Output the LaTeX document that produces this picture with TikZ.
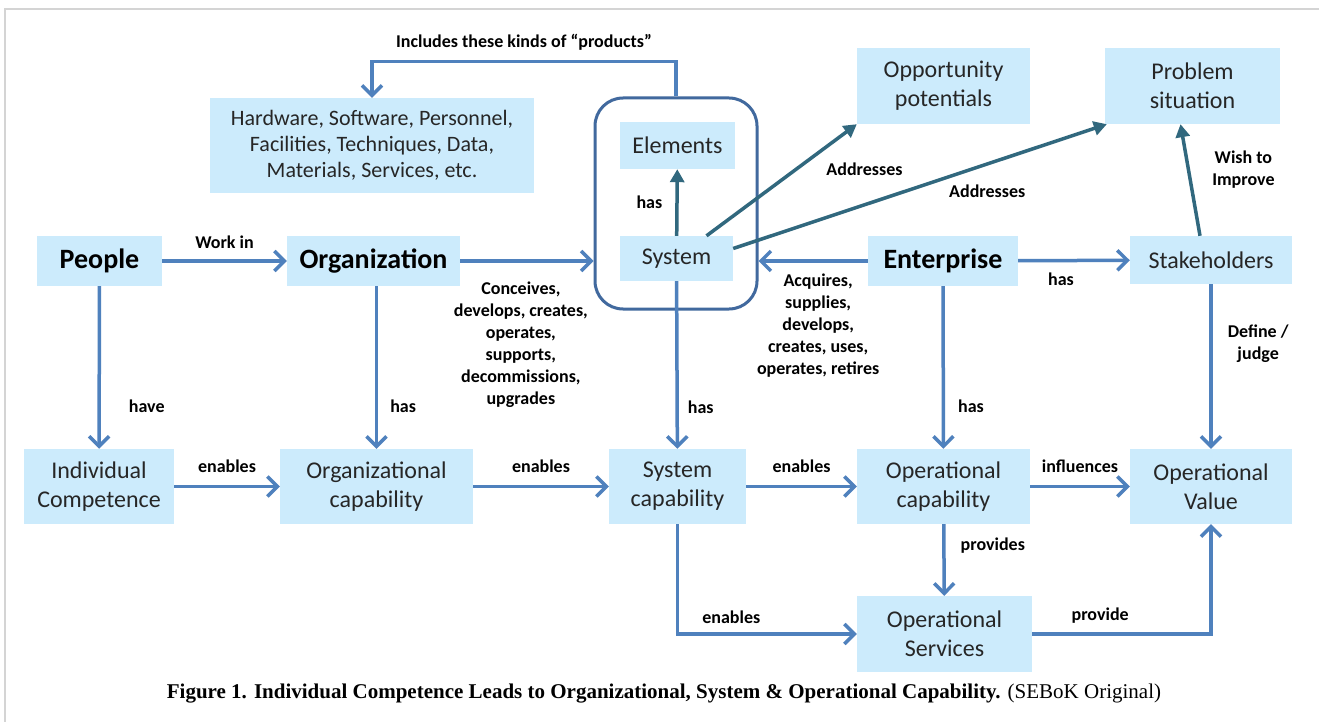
\documentclass[tikz,border=0pt]{standalone}
\usepackage{fontspec}
\setmainfont{Carlito}
\newfontfamily\capfont{Liberation Serif}
\usepackage{tikz}
\usetikzlibrary{arrows.meta,positioning}
\definecolor{boxfill}{HTML}{CCEBFC}
\definecolor{flowblue}{HTML}{4F81BD}
\definecolor{framecol}{HTML}{41699E}
\definecolor{tealdark}{HTML}{31687E}
\definecolor{pagegray}{HTML}{D4D4D4}

\begin{document}
\begin{tikzpicture}[x=1pt, y=-1pt,
  box/.style={fill=boxfill, text=black!85, inner sep=0pt, align=center, font=\fontsize{24}{29}\selectfont},
  bigbox/.style={box, text=black, font=\fontsize{28}{32}\selectfont\bfseries},
  lbl/.style={font=\fontsize{18}{22}\selectfont\bfseries, align=center, inner sep=0pt},
  barrow/.style={draw=flowblue, line width=3.5pt, -{Straight Barb[length=10pt,width=20pt]}},
  tarrow/.style={draw=tealdark, line width=3.5pt, -{Triangle[length=13pt,width=14pt]}}]

  \fill[white] (0,0) rectangle (1319,722);
  \useasboundingbox (0,0) rectangle (1319,722);
  \draw[pagegray, line width=1.5pt] (5,722) -- (5,9) -- (1319,9);

  % top row
  \node[bigbox, minimum width=125, minimum height=50] (people) at (99.5,261) {People};
  \node[bigbox, minimum width=173, minimum height=50] (org) at (373.5,261) {Organization};
  \node[box, minimum width=113, minimum height=45] (system) at (676.5,258.5) {System};
  \node[box, minimum width=115, minimum height=47] (elements) at (677.5,145.5) {Elements};
  \node[draw=framecol, line width=3pt, rounded corners=28pt, minimum width=162, minimum height=211] (sysframe) at (676,203.5) {};
  \node[bigbox, minimum width=150, minimum height=50] (enter) at (943,261) {Enterprise};
  \node[box, minimum width=162, minimum height=48] (stake) at (1211,260) {Stakeholders};
  \node[box, minimum width=324, minimum height=95, font=\fontsize{22}{26}\selectfont] (hardware) at (372,145.5)
    {Hardware, Software, Personnel,\\Facilities, Techniques, Data,\\Materials, Services, etc.};
  \node[box, minimum width=173, minimum height=76] (opport) at (943.5,86) {Opportunity\\potentials};
  \node[box, minimum width=175, minimum height=76] (problem) at (1192.5,86) {Problem\\situation};

  % capability row
  \node[box, minimum width=150, minimum height=75] (indiv) at (99,486.5) {Individual\\Competence};
  \node[box, minimum width=193, minimum height=75] (orgcap) at (376.5,486.5) {Organizational\\capability};
  \node[box, minimum width=137, minimum height=75] (syscap) at (677.5,486.5) {System\\capability};
  \node[box, minimum width=173, minimum height=75] (opcap) at (943.5,486.5) {Operational\\capability};
  \node[box, minimum width=162, minimum height=75] (opval) at (1211,486.5) {Operational\\Value};
  \node[box, minimum width=175, minimum height=76] (opserv) at (944.5,634) {Operational\\Services};

  \draw[barrow] (people) -- node[lbl, above=11pt] {Work in} (org);
  \draw[barrow] (people) -- node[lbl, pos=0.74, right=28pt] {have} (indiv);
  \draw[barrow] (org.south -| orgcap.north) -- node[lbl, pos=0.74, right=12pt] {has} (orgcap);
  \draw[barrow] (org) -- node[lbl, below=19pt, xshift=-6pt]
    {Conceives,\\develops, creates,\\operates,\\supports,\\decommissions,\\upgrades} (sysframe.west |- org);
  \draw[barrow] (enter) -- node[lbl, below=11pt, xshift=5pt]
    {Acquires,\\supplies,\\develops,\\creates, uses,\\operates, retires} (sysframe.east |- enter);
  \draw[barrow] (enter) -- node[lbl, below=11pt, xshift=-13pt] {has} (stake);
  \draw[barrow] (enter) -- node[lbl, pos=0.74, right=13pt] {has} (opcap);
  \draw[barrow] (system) -- node[lbl, pos=0.75, right=9pt] {has} (syscap);
  \draw[barrow] (stake) -- node[lbl, pos=0.36, right=15pt] {Define /\\judge} (opval);
  \draw[barrow] (sysframe.north) -- ++(0,-35) -| node[lbl, pos=0.25, above=9pt] {Includes these kinds of “products”} (hardware.north);

  \draw[tarrow] (system) -- node[lbl, left=13pt] {has} (elements);
  \draw[tarrow] ([xshift=30pt]system.north) -- node[lbl, pos=0.6, right=28pt] {Addresses} (opport.south west);
  \draw[tarrow] ([yshift=10pt]system.east) -- node[lbl, pos=0.68, below=19pt] {Addresses} ([xshift=2pt]problem.south west);
  \draw[tarrow] ([xshift=-11pt]stake.north) -- node[lbl, pos=0.59, right=22pt] {Wish to\\Improve} ([xshift=-12pt]problem.south);

  \draw[barrow] (indiv) -- node[lbl, above=12pt] {enables} (orgcap);
  \draw[barrow] (orgcap) -- node[lbl, above=12pt] {enables} (syscap);
  \draw[barrow] (syscap) -- node[lbl, above=12pt] {enables} (opcap);
  \draw[barrow] (opcap) -- node[lbl, above=12pt] {influences} (opval);
  \draw[barrow] (opcap) -- node[lbl, pos=0.3, right=15pt] {provides} (opserv);
  \draw[barrow] (syscap) |- node[lbl, pos=0.65, above=9pt] {enables} (opserv);
  \draw[barrow] (opserv) -| node[lbl, pos=0.19, above=9pt] {provide} (opval);

  \node[font=\capfont\fontsize{21}{24}\selectfont] (caption) at (664,694)
    {\textbf{Figure 1. Individual Competence Leads to Organizational, System \& Operational Capability.} (SEBoK Original)};
\end{tikzpicture}
\end{document}
